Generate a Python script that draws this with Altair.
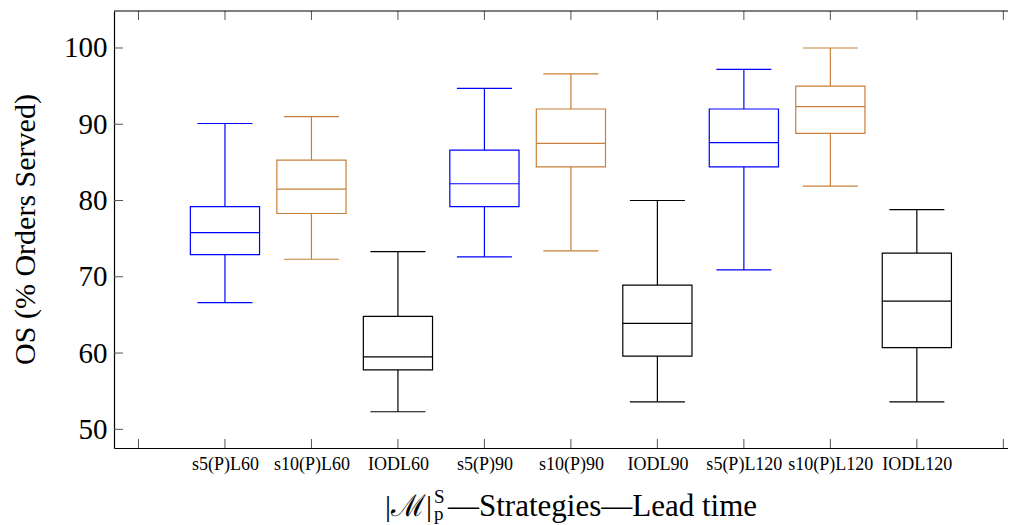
import json
import altair as alt
import pandas as pd

# ---- data ----
names = ["s5(P)L60", "s10(P)L60", "IODL60", "s5(P)90", "s10(P)90", "IODL90",
         "s5(P)L120", "s10(P)L120", "IODL120"]
groups = ["s5", "s10", "IODL", "s5", "s10", "IODL", "s5", "s10", "IODL"]
positions = [1, 2, 3, 4, 5, 6, 7, 8, 9]
lower_whisker = [66.6, 72.3, 52.3, 72.6, 73.4, 53.6, 70.9, 81.9, 53.6]
q1 = [72.9, 78.3, 57.8, 79.2, 84.4, 59.6, 84.4, 88.8, 60.7]
median = [75.8, 81.5, 59.5, 82.2, 87.5, 63.9, 87.6, 92.3, 66.8]
q3 = [79.2, 85.3, 64.8, 86.6, 92.0, 68.9, 92.0, 95.0, 73.1]
upper_whisker = [90.1, 91.0, 73.3, 94.7, 96.6, 80.0, 97.2, 100.0, 78.8]
y_ticks = [50, 60, 70, 80, 90, 100]
x_ticks = [0, 1, 2, 3, 4, 5, 6, 7, 8, 9, 10]
y_title = "OS (% Orders Served)"

df = pd.DataFrame({
    "name": names, "group": groups, "pos": positions,
    "lw": lower_whisker, "q1": q1, "med": median, "q3": q3, "uw": upper_whisker,
})

W, H = 894, 437
FONT = "Liberation Serif"
LW = 1.2
COLORS = ["#0000ff", "#c8803a", "#000000"]

xscale = alt.Scale(domain=[-0.283, 10.054], nice=False, zero=False)
yscale = alt.Scale(domain=[47.55, 104.85], nice=False, zero=False)
label_expr = ("datum.value >= 1 && datum.value <= 9 ? " + json.dumps(names)
              + "[datum.value - 1] : ''")
xaxis = alt.Axis(values=positions, labelExpr=label_expr, title=None, ticks=False,
                 grid=False, labelFontSize=18, labelPadding=7, labelColor="black",
                 domainColor="black", domainWidth=LW, labelFont=FONT)
yaxis = alt.Axis(values=y_ticks, title=None, ticks=False, grid=False,
                 labelFontSize=29, labelPadding=7, labelColor="black",
                 domainColor="black", domainWidth=LW, labelFont=FONT)

gscale = alt.Scale(domain=["s5", "s10", "IODL"], range=COLORS)
col = alt.Color("group:N", scale=gscale, legend=None)

base = alt.Chart(df).transform_calculate(
    left="datum.pos - 0.4", right="datum.pos + 0.4",
    cl="datum.pos - 0.318", cr="datum.pos + 0.318",
)

def X(f):
    return alt.X(f, type="quantitative", scale=xscale, axis=xaxis)

def Y(f):
    return alt.Y(f, type="quantitative", scale=yscale, axis=yaxis)

w_low = base.mark_rule(strokeWidth=LW).encode(x=X("pos"), y=Y("lw"), y2="q1:Q", color=col)
w_up = base.mark_rule(strokeWidth=LW).encode(x=X("pos"), y=Y("q3"), y2="uw:Q", color=col)
box = base.mark_rect(fill="white", strokeWidth=LW).encode(
    x=X("left"), x2="right:Q", y=Y("q1"), y2="q3:Q",
    stroke=alt.Stroke("group:N", scale=gscale, legend=None))
med = base.mark_rule(strokeWidth=LW).encode(x=X("left"), x2="right:Q", y=Y("med"), color=col)
cap_low = base.mark_rule(strokeWidth=LW).encode(x=X("cl"), x2="cr:Q", y=Y("lw"), color=col)
cap_up = base.mark_rule(strokeWidth=LW).encode(x=X("cl"), x2="cr:Q", y=Y("uw"), color=col)

# inward ticks and top frame line
xt = pd.DataFrame({"t": x_ticks})
yt = pd.DataFrame({"v": y_ticks})
xtick_b = alt.Chart(xt).mark_rule(color="#555555", strokeWidth=1).encode(
    x=X("t"), y=alt.value(H), y2=alt.value(H - 9))
xtick_t = alt.Chart(xt).mark_rule(color="#555555", strokeWidth=1).encode(
    x=X("t"), y=alt.value(0), y2=alt.value(9))
ytick = alt.Chart(yt).mark_rule(color="#555555", strokeWidth=1).encode(
    y=Y("v"), x=alt.value(0), x2=alt.value(9))
top_line = alt.Chart(pd.DataFrame({"a": [0]})).mark_rule(color="black", strokeWidth=LW).encode(
    x=alt.value(0), x2=alt.value(W), y=alt.value(0))

# axis titles as text
def txt(s, x, y, size, align="left", angle=0, baseline="alphabetic"):
    return alt.Chart(pd.DataFrame({"s": [s]})).mark_text(
        font=FONT, fontSize=size, align=align, baseline=baseline, angle=angle,
        color="black"
    ).encode(text="s:N", x=alt.value(x), y=alt.value(y))

t_main1 = txt("|ℳ|", 271, 505, 30)
t_sup = txt("S", 320, 492, 19)
t_sub = txt("p", 320, 509, 19)
t_main2 = txt("—Strategies—Lead time", 334, 505, 31)
t_y = txt(y_title, -88, H / 2, 30, align="center", angle=270, baseline="middle")

chart = alt.layer(
    w_low, w_up, box, med, cap_low, cap_up,
    xtick_b, xtick_t, ytick, top_line,
    t_main1, t_sup, t_sub, t_main2, t_y,
).properties(
    width=W, height=H,
    padding={"left": 106, "top": 3, "right": 0, "bottom": 77},
    autosize=alt.AutoSizeParams(type="none"),
).configure_view(stroke=None).configure_axis(
    labelFont=FONT, titleFont=FONT
).configure_text(font=FONT)

chart.save("out.html", embed_options={"renderer": "svg", "actions": False})
